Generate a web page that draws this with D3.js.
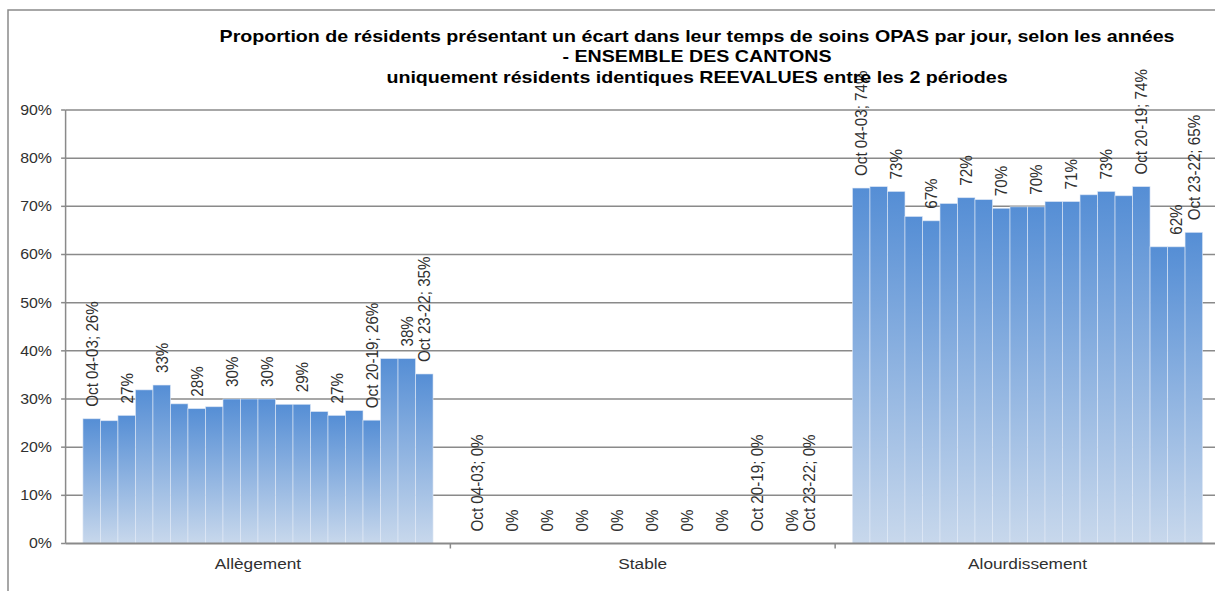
<!DOCTYPE html>
<html>
<head>
<meta charset="utf-8">
<script src="https://cdn.jsdelivr.net/npm/d3@7"></script>
<style>
  html, body { margin: 0; padding: 0; background: #fff; }
  svg { display: block; }
  text { font-family: "Liberation Sans", Arial, sans-serif; }
</style>
</head>
<body>
<svg id="chart" width="1215" height="591"></svg>
<script>
// Categories along the x axis
const categories = ["Allègement", "Stable", "Alourdissement"];

// Comparison periods (one bar per period inside each category)
const periods = [
  "Oct 04-03", "Oct 05-04", "Oct 06-05", "Oct 07-06", "Oct 08-07",
  "Oct 09-08", "Oct 10-09", "Oct 11-10", "Oct 12-11", "Oct 13-12",
  "Oct 14-13", "Oct 15-14", "Oct 16-15", "Oct 17-16", "Oct 18-17",
  "Oct 19-18", "Oct 20-19", "Oct 21-20", "Oct 22-21", "Oct 23-22"
];

// Share of residents (%) per period, one array per category
const allegement = [25.9, 25.5, 26.6, 31.9, 32.9, 29.0, 28.0, 28.4, 30.0, 30.0,
                    30.0, 28.9, 28.9, 27.4, 26.6, 27.6, 25.6, 38.4, 38.4, 35.2];
const stable = [0, 0, 0, 0, 0, 0, 0, 0, 0, 0,
                0, 0, 0, 0, 0, 0, 0, 0, 0, 0];
const alourdissement = [73.8, 74.1, 73.1, 67.9, 67.0, 70.6, 71.8, 71.4, 69.6, 69.9,
                        69.9, 71.0, 71.0, 72.4, 73.1, 72.2, 74.1, 61.6, 61.6, 64.6];

// Which bars carry a data label, and which of those also show the period name
const labelledBars = [0, 2, 4, 6, 8, 10, 12, 14, 16, 18, 19];
const namedBars = [0, 16, 19];

// Y axis ticks (%)
const yTicks = [0, 10, 20, 30, 40, 50, 60, 70, 80, 90];

const titleLines = [
  "Proportion de résidents présentant un écart dans leur temps de soins OPAS par jour, selon les années",
  "- ENSEMBLE DES CANTONS",
  "uniquement résidents identiques REEVALUES entre les 2 périodes"
];

const seriesByCategory = [allegement, stable, alourdissement];

// ---------------------------------------------------------------------------
const svg = d3.select("#chart");
const SX = 1.12;              // horizontal stretch applied to all text
const gridColor = "#8a8a8a";
const textColor = "#303030";

const plot = { left: 65.6, right: 1219.9, top: 110, bottom: 543.5 };

const x0 = d3.scaleBand().domain(categories).range([plot.left, plot.right]).paddingInner(0).paddingOuter(0);
const x1 = d3.scaleBand().domain(periods).range([0, x0.bandwidth()]).paddingInner(0).paddingOuter(0.99);
const y = d3.scaleLinear().domain([0, 90]).range([plot.bottom, plot.top]);

// Outer frame
svg.append("rect")
  .attr("x", 8).attr("y", 10).attr("width", 1300).attr("height", 700)
  .attr("fill", "none").attr("stroke", gridColor).attr("stroke-width", 1.5);

// Bar fill: vertical gradient per bar
const defs = svg.append("defs");
const grad = defs.append("linearGradient").attr("id", "barFill")
  .attr("x1", 0).attr("y1", 0).attr("x2", 0).attr("y2", 1);
grad.append("stop").attr("offset", "0%").attr("stop-color", "#558ed5");
grad.append("stop").attr("offset", "100%").attr("stop-color", "#c8d8ec");

// Horizontal gridlines
svg.append("g").selectAll("line").data(yTicks.filter(t => t > 0)).join("line")
  .attr("x1", plot.left).attr("x2", plot.right)
  .attr("y1", d => y(d)).attr("y2", d => y(d))
  .attr("stroke", gridColor).attr("stroke-width", 1.5);

// Bars
const groups = svg.append("g").selectAll("g").data(categories).join("g")
  .attr("transform", d => `translate(${x0(d)},0)`);

groups.each(function (cat, ci) {
  const vals = seriesByCategory[ci];
  const g = d3.select(this);
  g.selectAll("rect").data(vals.map((v, i) => ({ v, p: periods[i] }))).join("rect")
    .attr("x", d => x1(d.p))
    .attr("width", x1.bandwidth())
    .attr("y", d => y(d.v))
    .attr("height", d => y(0) - y(d.v))
    .attr("fill", "url(#barFill)")
    .attr("stroke", "rgba(225,234,246,0.75)")
    .attr("stroke-width", 0.8);

  // Data labels, rotated, just above the bar top
  g.selectAll("text").data(labelledBars).join("text")
    .attr("transform", i => `translate(${x1(periods[i]) + x1.bandwidth() / 2},${y(vals[i]) - 12}) scale(${SX},1) rotate(-90)`)
    .attr("dy", "0.36em")
    .attr("text-anchor", "start")
    .attr("font-size", 15.2)
    .attr("fill", textColor)
    .text(i => (namedBars.includes(i) ? periods[i] + "; " : "") + Math.round(vals[i]) + "%");
});

// Y axis
const yAxis = svg.append("g");
yAxis.append("line")
  .attr("x1", plot.left).attr("x2", plot.left)
  .attr("y1", plot.top).attr("y2", plot.bottom)
  .attr("stroke", gridColor).attr("stroke-width", 1.5);
yAxis.selectAll("line.tick").data(yTicks).join("line").attr("class", "tick")
  .attr("x1", plot.left - 4.5).attr("x2", plot.left)
  .attr("y1", d => y(d)).attr("y2", d => y(d))
  .attr("stroke", gridColor).attr("stroke-width", 1.5);
yAxis.selectAll("text").data(yTicks).join("text")
  .attr("transform", d => `translate(52,${y(d)}) scale(${SX},1)`)
  .attr("dy", "0.35em")
  .attr("text-anchor", "end")
  .attr("font-size", 14.2)
  .attr("fill", textColor)
  .text(d => d + "%");

// X axis
const xAxis = svg.append("g");
xAxis.append("line")
  .attr("x1", plot.left).attr("x2", plot.right)
  .attr("y1", y(0)).attr("y2", y(0))
  .attr("stroke", gridColor).attr("stroke-width", 2);
xAxis.selectAll("line.tick").data(categories.slice(1)).join("line").attr("class", "tick")
  .attr("x1", d => x0(d)).attr("x2", d => x0(d))
  .attr("y1", y(0)).attr("y2", y(0) + 5)
  .attr("stroke", gridColor).attr("stroke-width", 1.5);
xAxis.selectAll("text").data(categories).join("text")
  .attr("transform", d => `translate(${x0(d) + x0.bandwidth() / 2},569) scale(${SX},1)`)
  .attr("text-anchor", "middle")
  .attr("font-size", 15.4)
  .attr("fill", textColor)
  .text(d => d);

// Title
svg.append("g").selectAll("text").data(titleLines).join("text")
  .attr("transform", (d, i) => `translate(697,${41.5 + i * 20.5}) scale(1.19,1)`)
  .attr("text-anchor", "middle")
  .attr("font-size", 16.5)
  .attr("font-weight", "bold")
  .attr("fill", "#000")
  .text(d => d);
</script>
</body>
</html>
